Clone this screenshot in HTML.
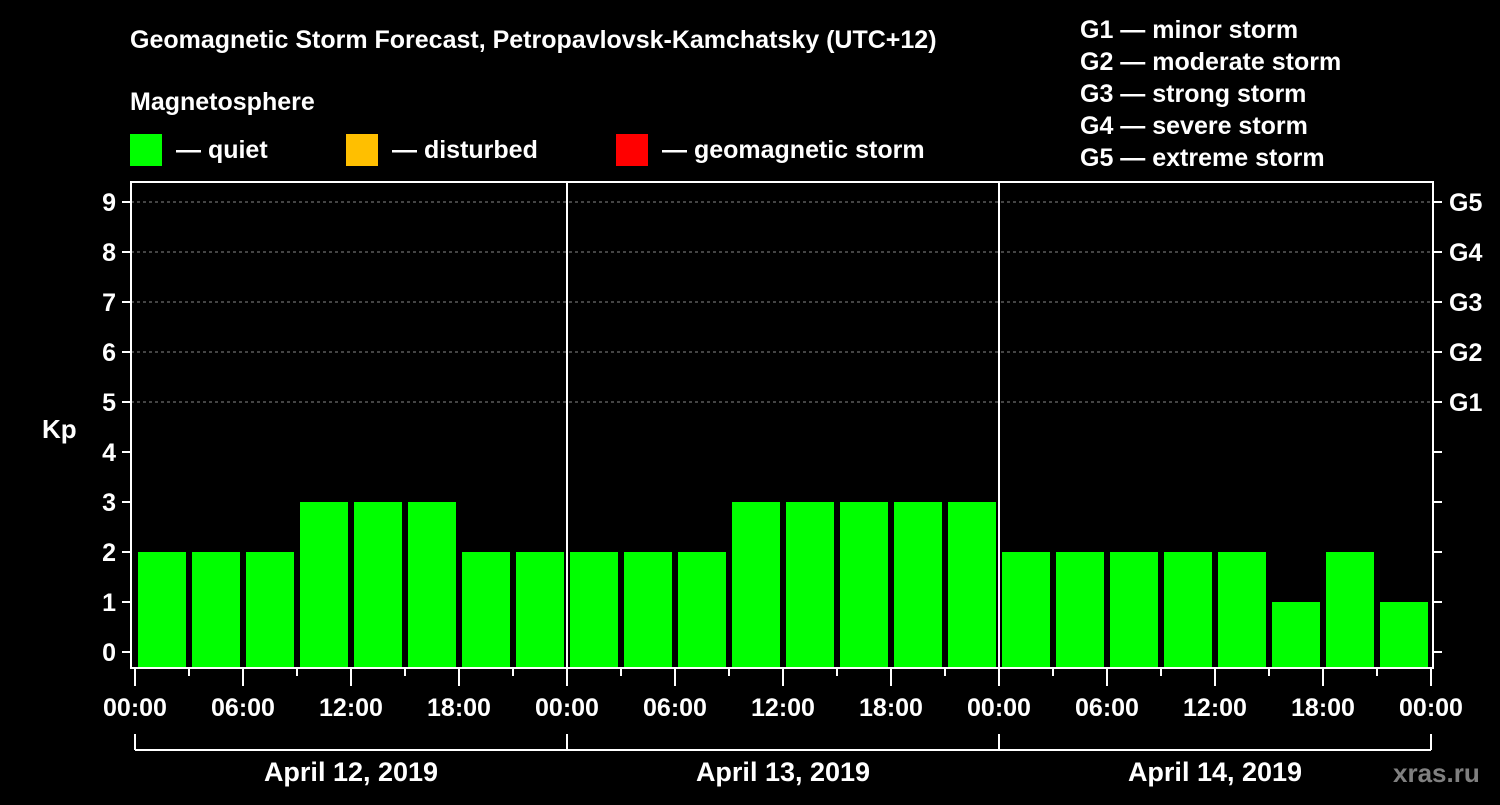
<!DOCTYPE html>
<html><head><meta charset="utf-8"><style>
body{margin:0;background:#000;}
svg text{font-family:"Liberation Sans",Arial,sans-serif;font-weight:bold;fill:#fff;}
</style></head><body>
<svg width="1500" height="800" viewBox="0 0 1500 800">
<rect width="1500" height="800" fill="#000"/>
<text x="130" y="48" font-size="25">Geomagnetic Storm Forecast, Petropavlovsk-Kamchatsky (UTC+12)</text>
<text x="130" y="110" font-size="25">Magnetosphere</text>
<g>
<rect x="130" y="134" width="32" height="32" fill="#00ff00"/>
<text x="176" y="158" font-size="25">— quiet</text>
<rect x="346" y="134" width="32" height="32" fill="#ffbf00"/>
<text x="392" y="158" font-size="25">— disturbed</text>
<rect x="616" y="134" width="32" height="32" fill="#ff0000"/>
<text x="662" y="158" font-size="25">— geomagnetic storm</text>
</g>
<g font-size="25">
<text x="1080" y="38">G1 — minor storm</text>
<text x="1080" y="70">G2 — moderate storm</text>
<text x="1080" y="102">G3 — strong storm</text>
<text x="1080" y="134">G4 — severe storm</text>
<text x="1080" y="166">G5 — extreme storm</text>
</g>
<text x="42" y="438" font-size="26">Kp</text>
<text x="1393" y="782" font-size="26" style="fill:#808080">xras.ru</text>
<g id="plot"></g>
</svg>
<script>
const kpValues = [2,2,2,3,3,3,2,2, 2,2,2,3,3,3,3,3, 2,2,2,2,2,1,2,1];
const yTicks = [0,1,2,3,4,5,6,7,8,9];
const gLabels = ["G1","G2","G3","G4","G5"];
const gLevels = [5,6,7,8,9];
const timeLabels = ["00:00","06:00","12:00","18:00","00:00","06:00","12:00","18:00","00:00","06:00","12:00","18:00","00:00"];
const dayLabels = ["April 12, 2019","April 13, 2019","April 14, 2019"];

const NS="http://www.w3.org/2000/svg";
const g=document.getElementById('plot');
const L=131,R=1433,T=182,B=668,X0=135,SLOT=54;
const y=v=>652-v*50;
const x=i=>X0+i*SLOT;
function mk(tag,attrs,parent){const e=document.createElementNS(NS,tag);for(const k in attrs)e.setAttribute(k,attrs[k]);(parent||g).appendChild(e);return e;}
// gridlines
gLevels.forEach(v=>{
 const e=mk('line',{x1:L,x2:R,y1:y(v),y2:y(v),stroke:'#888','stroke-dasharray':'3,3','stroke-width':1});
 
 
});
// bars
kpValues.forEach((v,i)=>{
 const col=v>=5?'#ff0000':(v>=4?'#ffbf00':'#00ff00');
 const e=mk('rect',{x:x(i)+3,y:y(v),width:SLOT-6,height:B-y(v),fill:col});
 
 
});
// frame
const fr=mk('rect',{x:L,y:T,width:R-L,height:B-T,fill:'none',stroke:'#fff','stroke-width':2});


// day separators
[1,2].forEach(d=>{
 const e=mk('line',{x1:x(d*8),x2:x(d*8),y1:T,y2:B,stroke:'#fff','stroke-width':2});
 
 
});
// y ticks
yTicks.forEach(v=>{
 const t=mk('line',{x1:122,x2:L,y1:y(v),y2:y(v),stroke:'#fff','stroke-width':2});
 
 
 const t2=mk('line',{x1:R,x2:1442,y1:y(v),y2:y(v),stroke:'#fff','stroke-width':2});
 
 
 const lb=mk('text',{x:116,y:y(v)+9,'font-size':25,'text-anchor':'end'});
 lb.textContent=v;
 
 
});
gLevels.forEach((v,i)=>{
 const lb=mk('text',{x:1449,y:y(v)+9,'font-size':25});
 lb.textContent=gLabels[i];
 
 
});
// x ticks
for(let i=0;i<=kpValues.length;i++){
 const major=i%2===0;
 const t=mk('line',{x1:x(i),x2:x(i),y1:B,y2:major?686:676,stroke:'#fff','stroke-width':2});
 
 
}
timeLabels.forEach((s,j)=>{
 const lb=mk('text',{x:x(j*2),y:716,'font-size':25,'text-anchor':'middle'});
 lb.textContent=s;
 
 
});
// day brackets
const br=mk('path',{d:'',fill:'none',stroke:'#fff','stroke-width':2});
let d='M'+x(0)+' 750 H'+x(24);
for(let k=0;k<=3;k++)d+=' M'+x(k*8)+' 734 V750';
br.setAttribute('d',d);


dayLabels.forEach((s,k)=>{
 const lb=mk('text',{x:x(k*8+4),y:781,'font-size':27,'text-anchor':'middle'});
 lb.textContent=s;
 
 
});
</script>
</body></html>
